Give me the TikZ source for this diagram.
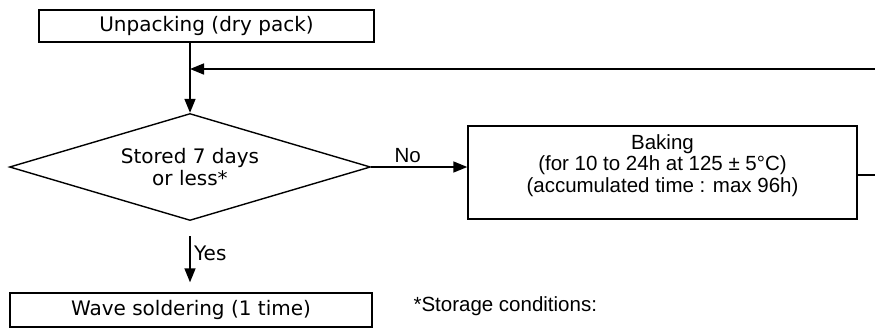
\documentclass[tikz,border=0pt]{standalone}
\usepackage{fontspec}
\setmainfont{DejaVu Sans}
\newfontfamily\arialfont{Liberation Sans}
\usetikzlibrary{arrows.meta,shapes.geometric,positioning,calc}

\begin{document}
\begin{tikzpicture}[
  x=1pt, y=-1pt,
  every node/.style={font=\fontsize{20}{22}\selectfont},
  box/.style={
    draw,
    line width=1.4pt,
    inner sep=0pt,
    align=center
  },
  decision/.style={
    draw,
    diamond,
    aspect=3.37,
    line width=1.4pt,
    inner sep=0pt,
    align=center,
    minimum width=361pt,
    minimum height=107pt
  },
  arialtext/.style={font=\arialfont\fontsize{20.5}{21.5}\selectfont, align=center},
  arrow/.style={
    -{Triangle[length=14pt,width=11pt]},
    line width=1.6pt
  }
]

% ------------------------------------------------
% Page frame (clips the loop that runs off the right edge)
% ------------------------------------------------
\clip (0,0) rectangle (875,330);
\fill[white] (0,0) rectangle (875,330);

% Nodes
\node[box, minimum width=335pt, minimum height=32pt] (unpack) at (206.5,26) {Unpacking (dry pack)};

\node[decision] (stored) at (190,167) {Stored 7 days\\or less*};

\node[box, arialtext, text depth=18pt, minimum width=389pt, minimum height=93pt] (baking) at (662.5,172.5)
  {Baking\\(for 10 to 24h at 125 ± 5°C)\\(accumulated time : max 96h)};

\node[box, minimum width=362pt, minimum height=34pt] (wave) at (191,310) {Wave soldering (1 time)};

\node[arialtext, anchor=west] (storage) at (410,306) {*Storage conditions:};

% Routing helpers (right lane lies outside the page)
\coordinate (merge)     at (stored.north |- 0,69);
\coordinate (bakeOut)   at ($(baking.east)+(0,2.5)$);
\coordinate (rightLane) at (910,0);

% ------------------------------------------------
% Arrows
% ------------------------------------------------
\draw[arrow] (stored.north |- unpack.south) -- (stored.north);
\draw[arrow] (stored.east) -- node[arialtext, above, pos=0.38]{No} (stored.east -| baking.west);
\draw[arrow, shorten <=15pt, shorten >=10pt] (stored.south) -- node[right, pos=0.45]{Yes} (stored.south |- wave.north);

% Baking -> back into the main line (loop around the right side)
\draw[arrow]
  (bakeOut) -- (rightLane |- bakeOut)
  -- (rightLane |- merge)
  -- (merge);

\end{tikzpicture}
\end{document}
